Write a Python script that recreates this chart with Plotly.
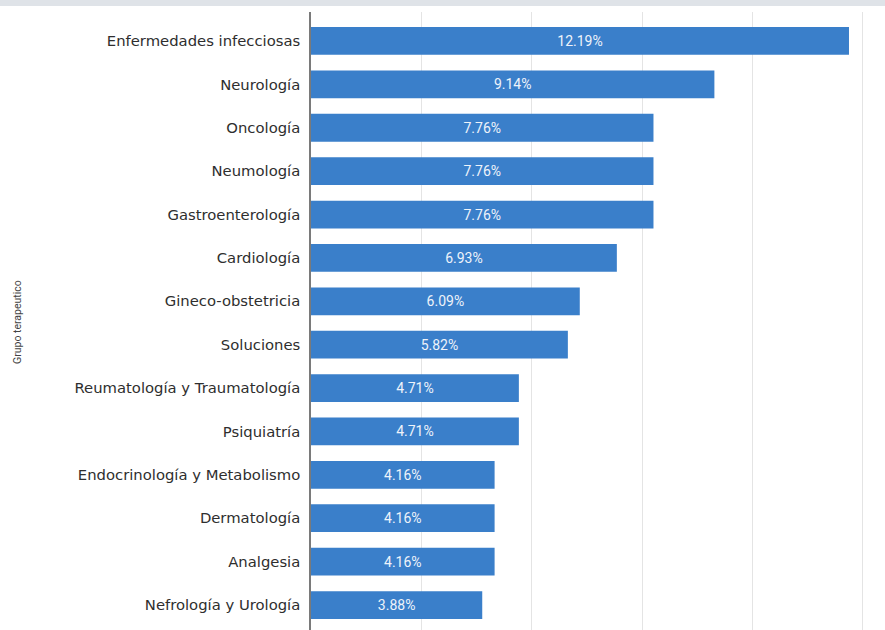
import plotly.graph_objects as go

categories = [
    "Enfermedades infecciosas", "Neurología", "Oncología", "Neumología",
    "Gastroenterología", "Cardiología", "Gineco-obstetricia", "Soluciones",
    "Reumatología y Traumatología", "Psiquiatría", "Endocrinología y Metabolismo",
    "Dermatología", "Analgesia", "Nefrología y Urología",
]
values = [12.19, 9.14, 7.76, 7.76, 7.76, 6.93, 6.09, 5.82, 4.71, 4.71, 4.16, 4.16, 4.16, 3.88]
labels = [f"{v:.2f}%" for v in values]

L, R, T, B = 311, 21, 12, 0
PW, PH = 885 - L - R, 630 - T - B

fig = go.Figure(go.Bar(
    x=values, y=categories, orientation="h",
    marker=dict(color="#3a7fca", line=dict(width=0)),
    text=labels, textposition="inside", insidetextanchor="middle",
    textfont=dict(color="#eef3fa", size=14, family="Roboto"),
    width=0.64,
))

fig.update_layout(
    width=885, height=630,
    margin=dict(l=L, r=R, t=T, b=B),
    paper_bgcolor="white", plot_bgcolor="white",
    showlegend=False,
    xaxis=dict(range=[0, 12.53], dtick=2.5, showgrid=True, gridcolor="#e4e4e4",
               gridwidth=1, zeroline=False, showticklabels=False, ticks=""),
    yaxis=dict(categoryorder="array", categoryarray=categories,
               range=[13.576, -0.668], autorange=False,
               showline=True, linecolor="#7a7a7a", linewidth=1.5,
               ticks="", ticklabelstandoff=6,
               tickfont=dict(size=14.8, color="#2e2e2e", family="DejaVu Sans")),
    annotations=[dict(text="Grupo terapeutico", xref="paper", yref="paper",
                      x=-(L - 18) / PW, y=(630 - 322 - B) / PH,
                      textangle=-90, showarrow=False, xanchor="center", yanchor="middle",
                      font=dict(size=10.5, color="#444444", family="Roboto"))],
    shapes=[dict(type="rect", xref="paper", yref="paper",
                 x0=-L / PW, x1=1 + R / PW, y0=1 + (T - 6) / PH, y1=1 + T / PH,
                 fillcolor="#dfe3e8", line=dict(width=0), layer="above")],
)

fig.write_html("out.html", config={"displayModeBar": False},
               post_script="document.body.style.margin='0px';")
